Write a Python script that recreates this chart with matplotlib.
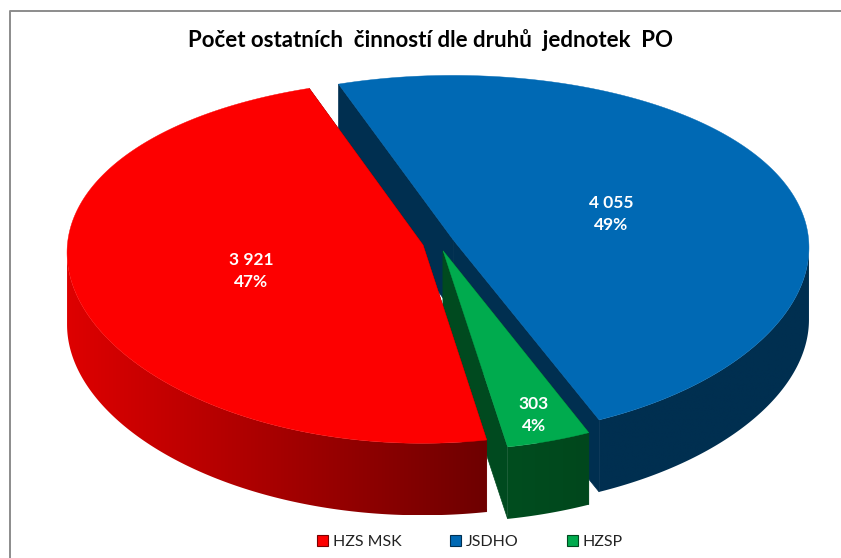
import numpy as np
import matplotlib
matplotlib.use("Agg")
import matplotlib.pyplot as plt
from matplotlib.patches import Polygon, Patch
from matplotlib.colors import LinearSegmentedColormap

categories = ["HZS MSK", "JSDHO", "HZSP"]
values = [3921, 4055, 303]
percent_labels = ["47%", "49%", "4%"]
title = "Počet ostatních  činností dle druhů  jednotek  PO"

top_colors = {"HZS MSK": "#fd0000", "JSDHO": "#0069b4", "HZSP": "#00ab4e"}
wall_colors = {"HZS MSK": "#7a0000", "JSDHO": "#002f50", "HZSP": "#004a1f"}
rim_left = {"HZS MSK": "#de0000", "JSDHO": "#002f50", "HZSP": "#004d1f"}
rim_right = {"HZS MSK": "#6e0000", "JSDHO": "#002f50", "HZSP": "#00471c"}
label_pos = {"HZS MSK": (251, 271), "JSDHO": (611, 214), "HZSP": (534, 415)}

START = 170.0      # clockwise from the back of the pie, degrees
EXPLODE = 0.045
CX, CY = 438.5, 243
A, B = 355.5, 180
KX, KY = 0.04, 0.09
DEPTH = 72


def project(u, v):
    return CX + A * u / (1 + KX * v), CY - B * v / (1 + KY * v)


fig = plt.figure(figsize=(8.41, 5.58), dpi=100)
ax = fig.add_axes([0, 0, 1, 1])
ax.axis("off")

ax.plot([10, 10, 841], [558, 11, 11], color="#8c8c8c", lw=1.4, zorder=1)

fractions = np.array(values) / sum(values)
angles = START + np.concatenate([[0], np.cumsum(fractions)]) * 360
slices = {}
for i, name in enumerate(categories):
    t = np.radians(np.linspace(angles[i], angles[i + 1], 300))
    mid = np.radians((angles[i] + angles[i + 1]) / 2)
    ou, ov = EXPLODE * np.sin(mid), EXPLODE * np.cos(mid)
    px, py = project(ou + np.sin(t), ov + np.cos(t))
    ax_, ay_ = project(ou, ov)
    slices[name] = (px, py, ax_, ay_)

for z, name in enumerate(["JSDHO", "HZSP", "HZS MSK"]):
    base = 2 + z * 3
    px, py, cx, cy = slices[name]
    for e in (0, -1):
        ax.add_patch(Polygon([(cx, cy), (px[e], py[e]), (px[e], py[e] + DEPTH), (cx, cy + DEPTH)],
                             fc=wall_colors[name], ec=wall_colors[name], lw=0.5, zorder=base))
    # outer rim: only the front-facing part of the arc, shaded left to right
    vis = np.r_[np.diff(px) < 0, False]
    vis[1:] |= vis[:-1].copy()
    fx, fy = px[vis], py[vis]
    rim = Polygon(np.column_stack([np.r_[fx, fx[::-1]], np.r_[fy, fy[::-1] + DEPTH]]),
                  fc="none", ec="none", transform=ax.transData)
    ax.add_patch(rim)
    cmap = LinearSegmentedColormap.from_list(name, [rim_left[name], rim_right[name]])
    im = ax.imshow(np.linspace(0, 1, 256)[None, :], cmap=cmap, aspect="auto", zorder=base + 1,
                   extent=(fx.min(), fx.max(), fy.max() + DEPTH, fy.min()), interpolation="bilinear")
    im.set_clip_path(rim)
    ax.add_patch(Polygon(np.column_stack([np.r_[cx, px], np.r_[cy, py]]),
                         fc=top_colors[name], ec=top_colors[name], lw=0.3, zorder=base + 2))

ax.set_xlim(0, 841)
ax.set_ylim(558, 0)

for name, val, pct in zip(categories, values, percent_labels):
    txt = f"{val:,}".replace(",", " ") + "\n" + pct
    ax.text(*label_pos[name], txt, color="white", ha="center", va="center", fontsize=12.5,
            fontweight="bold", family="Lato", linespacing=1.42, zorder=30)

ax.text(431, 40, title, ha="center", va="center", fontsize=16, fontweight="bold",
        family="Lato", color="black", zorder=30)

handles = [Patch(fc=top_colors[c], ec=wall_colors[c], lw=0.8, label=c) for c in categories]
leg = ax.legend(handles=handles, loc="center", bbox_to_anchor=(470 / 841, 1 - 542 / 558), ncol=3,
                frameon=False, handlelength=0.7, handleheight=0.7, handletextpad=0.3,
                columnspacing=3.0, prop={"family": "Lato", "size": 11.5})
for t in leg.get_texts():
    t.set_color("#222222")

fig.savefig("out.png", dpi=100)
